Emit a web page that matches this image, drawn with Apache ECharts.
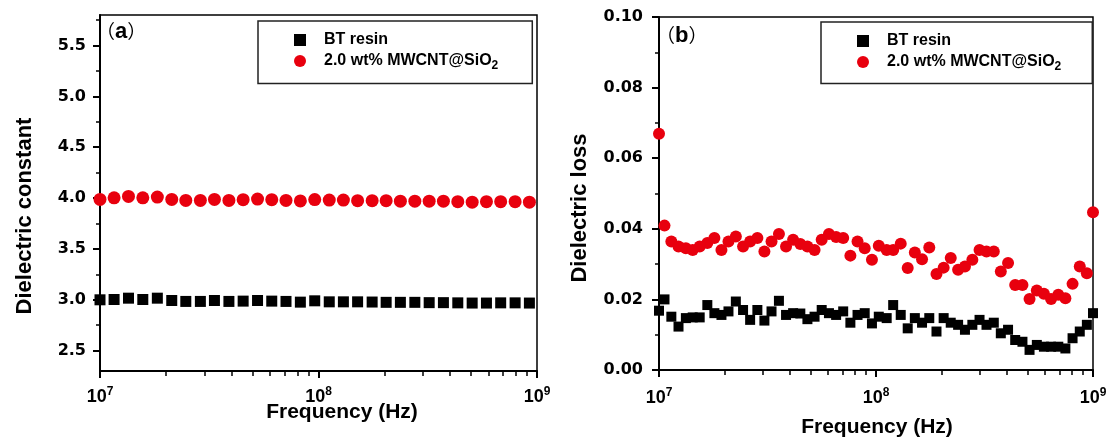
<!DOCTYPE html>
<html><head><meta charset="utf-8">
<script src="https://cdn.jsdelivr.net/npm/echarts@6/dist/echarts.min.js"></script>
<style>html,body{margin:0;padding:0;background:#fff}#c{width:1110px;height:441px}</style>
</head><body><div id="c"></div>
<script>
// ---- data ----
const seriesNames = ['BT resin', '2.0 wt% MWCNT@SiO2'];
const freqA = [1.00e7,1.16e7,1.35e7,1.57e7,1.83e7,2.13e7,2.47e7,2.88e7,3.34e7,3.89e7,
  4.52e7,5.26e7,6.11e7,7.10e7,8.26e7,9.61e7,1.12e8,1.30e8,1.51e8,1.76e8,
  2.04e8,2.37e8,2.76e8,3.21e8,3.73e8,4.34e8,5.05e8,5.87e8,6.82e8,7.94e8,9.23e8];
const btConstant = [3.000,3.003,3.016,3.003,3.016,2.993,2.984,2.984,2.993,2.984,
  2.987,2.993,2.987,2.984,2.977,2.990,2.980,2.980,2.980,2.978,
  2.975,2.975,2.975,2.972,2.972,2.970,2.968,2.968,2.970,2.970,2.968];
const cntConstant = [3.987,4.003,4.016,4.003,4.010,3.987,3.977,3.977,3.987,3.977,
  3.984,3.990,3.984,3.977,3.972,3.985,3.980,3.980,3.975,3.975,
  3.975,3.970,3.970,3.970,3.970,3.965,3.960,3.965,3.965,3.965,3.960];
const freqB = [1.00e7,1.06e7,1.14e7,1.23e7,1.33e7,1.43e7,1.54e7,1.67e7,1.80e7,1.94e7,
  2.09e7,2.26e7,2.44e7,2.63e7,2.84e7,3.06e7,3.30e7,3.57e7,3.85e7,4.15e7,
  4.48e7,4.83e7,5.21e7,5.62e7,6.07e7,6.55e7,7.06e7,7.62e7,8.22e7,8.87e7,
  9.58e7,1.03e8,1.12e8,1.20e8,1.30e8,1.40e8,1.51e8,1.63e8,1.76e8,1.90e8,
  2.05e8,2.21e8,2.39e8,2.57e8,2.78e8,3.00e8,3.23e8,3.49e8,3.76e8,4.06e8,
  4.38e8,4.73e8,5.10e8,5.51e8,5.94e8,6.41e8,6.92e8,7.46e8,8.05e8,8.69e8,
  9.37e8,1.00e9];
const btLoss = [0.0168,0.0200,0.0151,0.0123,0.0147,0.0149,0.0149,0.0184,0.0161,0.0156,
  0.0166,0.0194,0.0170,0.0142,0.0170,0.0140,0.0166,0.0196,0.0156,0.0161,
  0.0160,0.0144,0.0151,0.0170,0.0161,0.0156,0.0166,0.0134,0.0156,0.0161,
  0.0132,0.0151,0.0147,0.0184,0.0156,0.0118,0.0147,0.0134,0.0147,0.0109,
  0.0147,0.0134,0.0128,0.0114,0.0128,0.0142,0.0128,0.0134,0.0104,0.0114,
  0.0085,0.0080,0.0057,0.0071,0.0066,0.0066,0.0066,0.0061,0.0090,0.0109,
  0.0128,0.0161];
const cntLoss = [0.0669,0.0409,0.0364,0.0350,0.0345,0.0340,0.0350,0.0360,0.0374,0.0340,
  0.0364,0.0378,0.0350,0.0364,0.0374,0.0336,0.0364,0.0385,0.0350,0.0369,
  0.0357,0.0350,0.0340,0.0369,0.0385,0.0377,0.0374,0.0324,0.0364,0.0345,
  0.0312,0.0352,0.0340,0.0340,0.0358,0.0289,0.0333,0.0314,0.0347,0.0272,
  0.0290,0.0317,0.0284,0.0293,0.0312,0.0340,0.0336,0.0336,0.0279,0.0303,
  0.0241,0.0241,0.0201,0.0225,0.0216,0.0201,0.0213,0.0203,0.0244,0.0293,
  0.0274,0.0447];
const yTicksA = [2.5,3.0,3.5,4.0,4.5,5.0,5.5];
const yMinorA = [2.75,3.25,3.75,4.25,4.75,5.25,5.75];
const xMinor = [2e7,3e7,4e7,5e7,6e7,7e7,8e7,9e7,2e8,3e8,4e8,5e8,6e8,7e8,8e8,9e8];

// ---- chart ----
const FONT = 'Liberation Sans';
const NUMFONT = 'DejaVu Sans';
const RED = '#e8000e';
const chart = echarts.init(document.getElementById('c'));
const pairs = (xs, ys) => xs.map((x, i) => [x, ys[i]]);

function xMain(gi, margin) {
  return {
    type: 'log', logBase: 10, gridIndex: gi, min: 1e7, max: 1e9, position: 'bottom',
    axisLine: {show: true, lineStyle: {color: '#000', width: 2}},
    axisTick: {show: true, length: 7, lineStyle: {color: '#000', width: 2}},
    splitLine: {show: false}, minorTick: {show: false},
    axisLabel: {
      margin: margin, color: '#000',
      formatter: v => '{b|10}{s|' + Math.round(Math.log10(v)) + '}',
      rich: {
        b: {fontFamily: FONT, fontWeight: 'bold', fontSize: 18, color: '#000'},
        s: {fontFamily: FONT, fontWeight: 'bold', fontSize: 12, color: '#000', padding: [0, 0, 10, 0]}
      }
    }
  };
}
function xMinorAxis(gi) {
  return {
    type: 'log', logBase: 10, gridIndex: gi, min: 1e7, max: 1e9, position: 'bottom',
    axisLine: {show: false},
    axisTick: {show: true, length: 5, customValues: xMinor, lineStyle: {color: '#000', width: 1.5}},
    axisLabel: {show: false}, splitLine: {show: false}
  };
}
const legendCommon = {
  orient: 'vertical', itemWidth: 12, itemHeight: 12, itemGap: 5,
  borderColor: '#222', borderWidth: 1.5, backgroundColor: '#fff',
  selectedMode: false,
  data: [{name: seriesNames[0], icon: 'rect'}, {name: seriesNames[1], icon: 'circle'}],
  formatter: n => n === seriesNames[1] ? '2.0 wt% MWCNT@SiO{sub|2}' : n,
  textStyle: {
    fontFamily: FONT, fontWeight: 'bold', fontSize: 16, color: '#000', padding: [0, 0, 0, 13],
    rich: {sub: {fontFamily: FONT, fontWeight: 'bold', fontSize: 12, color: '#000', padding: [9, 0, 0, 0]}}
  }
};
const black = {color: '#000', opacity: 1};
const red = {color: RED, opacity: 1};

chart.setOption({
  animation: false,
  backgroundColor: '#fff',
  grid: [
    {left: 100, top: 15, width: 437, height: 356, show: true, borderColor: '#000', borderWidth: 1.5, backgroundColor: 'transparent'},
    {left: 659, top: 17, width: 434, height: 353, show: true, borderColor: '#000', borderWidth: 1.5, backgroundColor: 'transparent'}
  ],
  legend: [
    Object.assign({}, legendCommon, {left: 258, top: 21, padding: [11, 34, 12, 36]}),
    Object.assign({}, legendCommon, {left: 821, top: 22, padding: [11, 31, 11, 36]})
  ],
  xAxis: [xMain(0, 15), xMinorAxis(0), xMain(1, 17), xMinorAxis(1)],
  yAxis: [
    {
      type: 'value', gridIndex: 0, min: 2.3, max: 5.8, position: 'left',
      axisLine: {show: true, lineStyle: {color: '#000', width: 2}},
      axisTick: {show: true, length: 7, customValues: yTicksA, lineStyle: {color: '#000', width: 2}},
      axisLabel: {customValues: yTicksA, margin: 14, formatter: v => v.toFixed(1),
        fontFamily: NUMFONT, fontWeight: 'bold', fontSize: 16, color: '#000'},
      splitLine: {show: false}
    },
    {
      type: 'value', gridIndex: 0, min: 2.3, max: 5.8, position: 'left',
      axisLine: {show: false},
      axisTick: {show: true, length: 4, customValues: yMinorA, lineStyle: {color: '#000', width: 1.5}},
      axisLabel: {show: false}, splitLine: {show: false}
    },
    {
      type: 'value', gridIndex: 1, min: 0, max: 0.1, interval: 0.02, position: 'left',
      axisLine: {show: true, lineStyle: {color: '#000', width: 2}},
      axisTick: {show: true, length: 7, lineStyle: {color: '#000', width: 2}},
      minorTick: {show: true, splitNumber: 2, length: 4, lineStyle: {color: '#000', width: 1.5}},
      axisLabel: {margin: 16, formatter: v => v.toFixed(2),
        fontFamily: NUMFONT, fontWeight: 'bold', fontSize: 16, color: '#000'},
      splitLine: {show: false}
    }
  ],
  series: [
    {name: seriesNames[0], type: 'scatter', xAxisIndex: 0, yAxisIndex: 0, symbol: 'rect', symbolSize: 11,
      itemStyle: black, data: pairs(freqA, btConstant)},
    {name: seriesNames[1], type: 'scatter', xAxisIndex: 0, yAxisIndex: 0, symbol: 'circle', symbolSize: 13,
      itemStyle: red, data: pairs(freqA, cntConstant)},
    {name: seriesNames[0], type: 'scatter', xAxisIndex: 2, yAxisIndex: 2, symbol: 'rect', symbolSize: 10,
      itemStyle: black, data: pairs(freqB, btLoss)},
    {name: seriesNames[1], type: 'scatter', xAxisIndex: 2, yAxisIndex: 2, symbol: 'circle', symbolSize: 12,
      itemStyle: red, data: pairs(freqB, cntLoss)}
  ],
  graphic: [
    {type: 'text', x: 25, y: 216, rotation: Math.PI / 2,
      style: {text: 'Dielectric constant', fill: '#000', font: 'bold 22px "Liberation Sans"', align: 'center', verticalAlign: 'middle'}},
    {type: 'text', x: 580, y: 208, rotation: Math.PI / 2,
      style: {text: 'Dielectric loss', fill: '#000', font: 'bold 22px "Liberation Sans"', align: 'center', verticalAlign: 'middle'}},
    {type: 'text', x: 342, y: 412,
      style: {text: 'Frequency (Hz)', fill: '#000', font: 'bold 21px "Liberation Sans"', align: 'center', verticalAlign: 'middle'}},
    {type: 'text', x: 877, y: 427,
      style: {text: 'Frequency (Hz)', fill: '#000', font: 'bold 21px "Liberation Sans"', align: 'center', verticalAlign: 'middle'}},
    {type: 'text', x: 96, y: 32,
      style: {text: '{p|（}{l|a}{p|）}', verticalAlign: 'middle', align: 'left',
        rich: {p: {fontFamily: 'Noto Sans CJK SC', fontSize: 19, fill: '#000', fontWeight: 'normal'},
               l: {fontFamily: FONT, fontSize: 22, fontWeight: 'bold', fill: '#000'}}}},
    {type: 'text', x: 656, y: 36,
      style: {text: '{p|（}{l|b}{p|）}', verticalAlign: 'middle', align: 'left',
        rich: {p: {fontFamily: 'Noto Sans CJK SC', fontSize: 19, fill: '#000', fontWeight: 'normal'},
               l: {fontFamily: FONT, fontSize: 22, fontWeight: 'bold', fill: '#000'}}}}
  ]
});
</script></body></html>
